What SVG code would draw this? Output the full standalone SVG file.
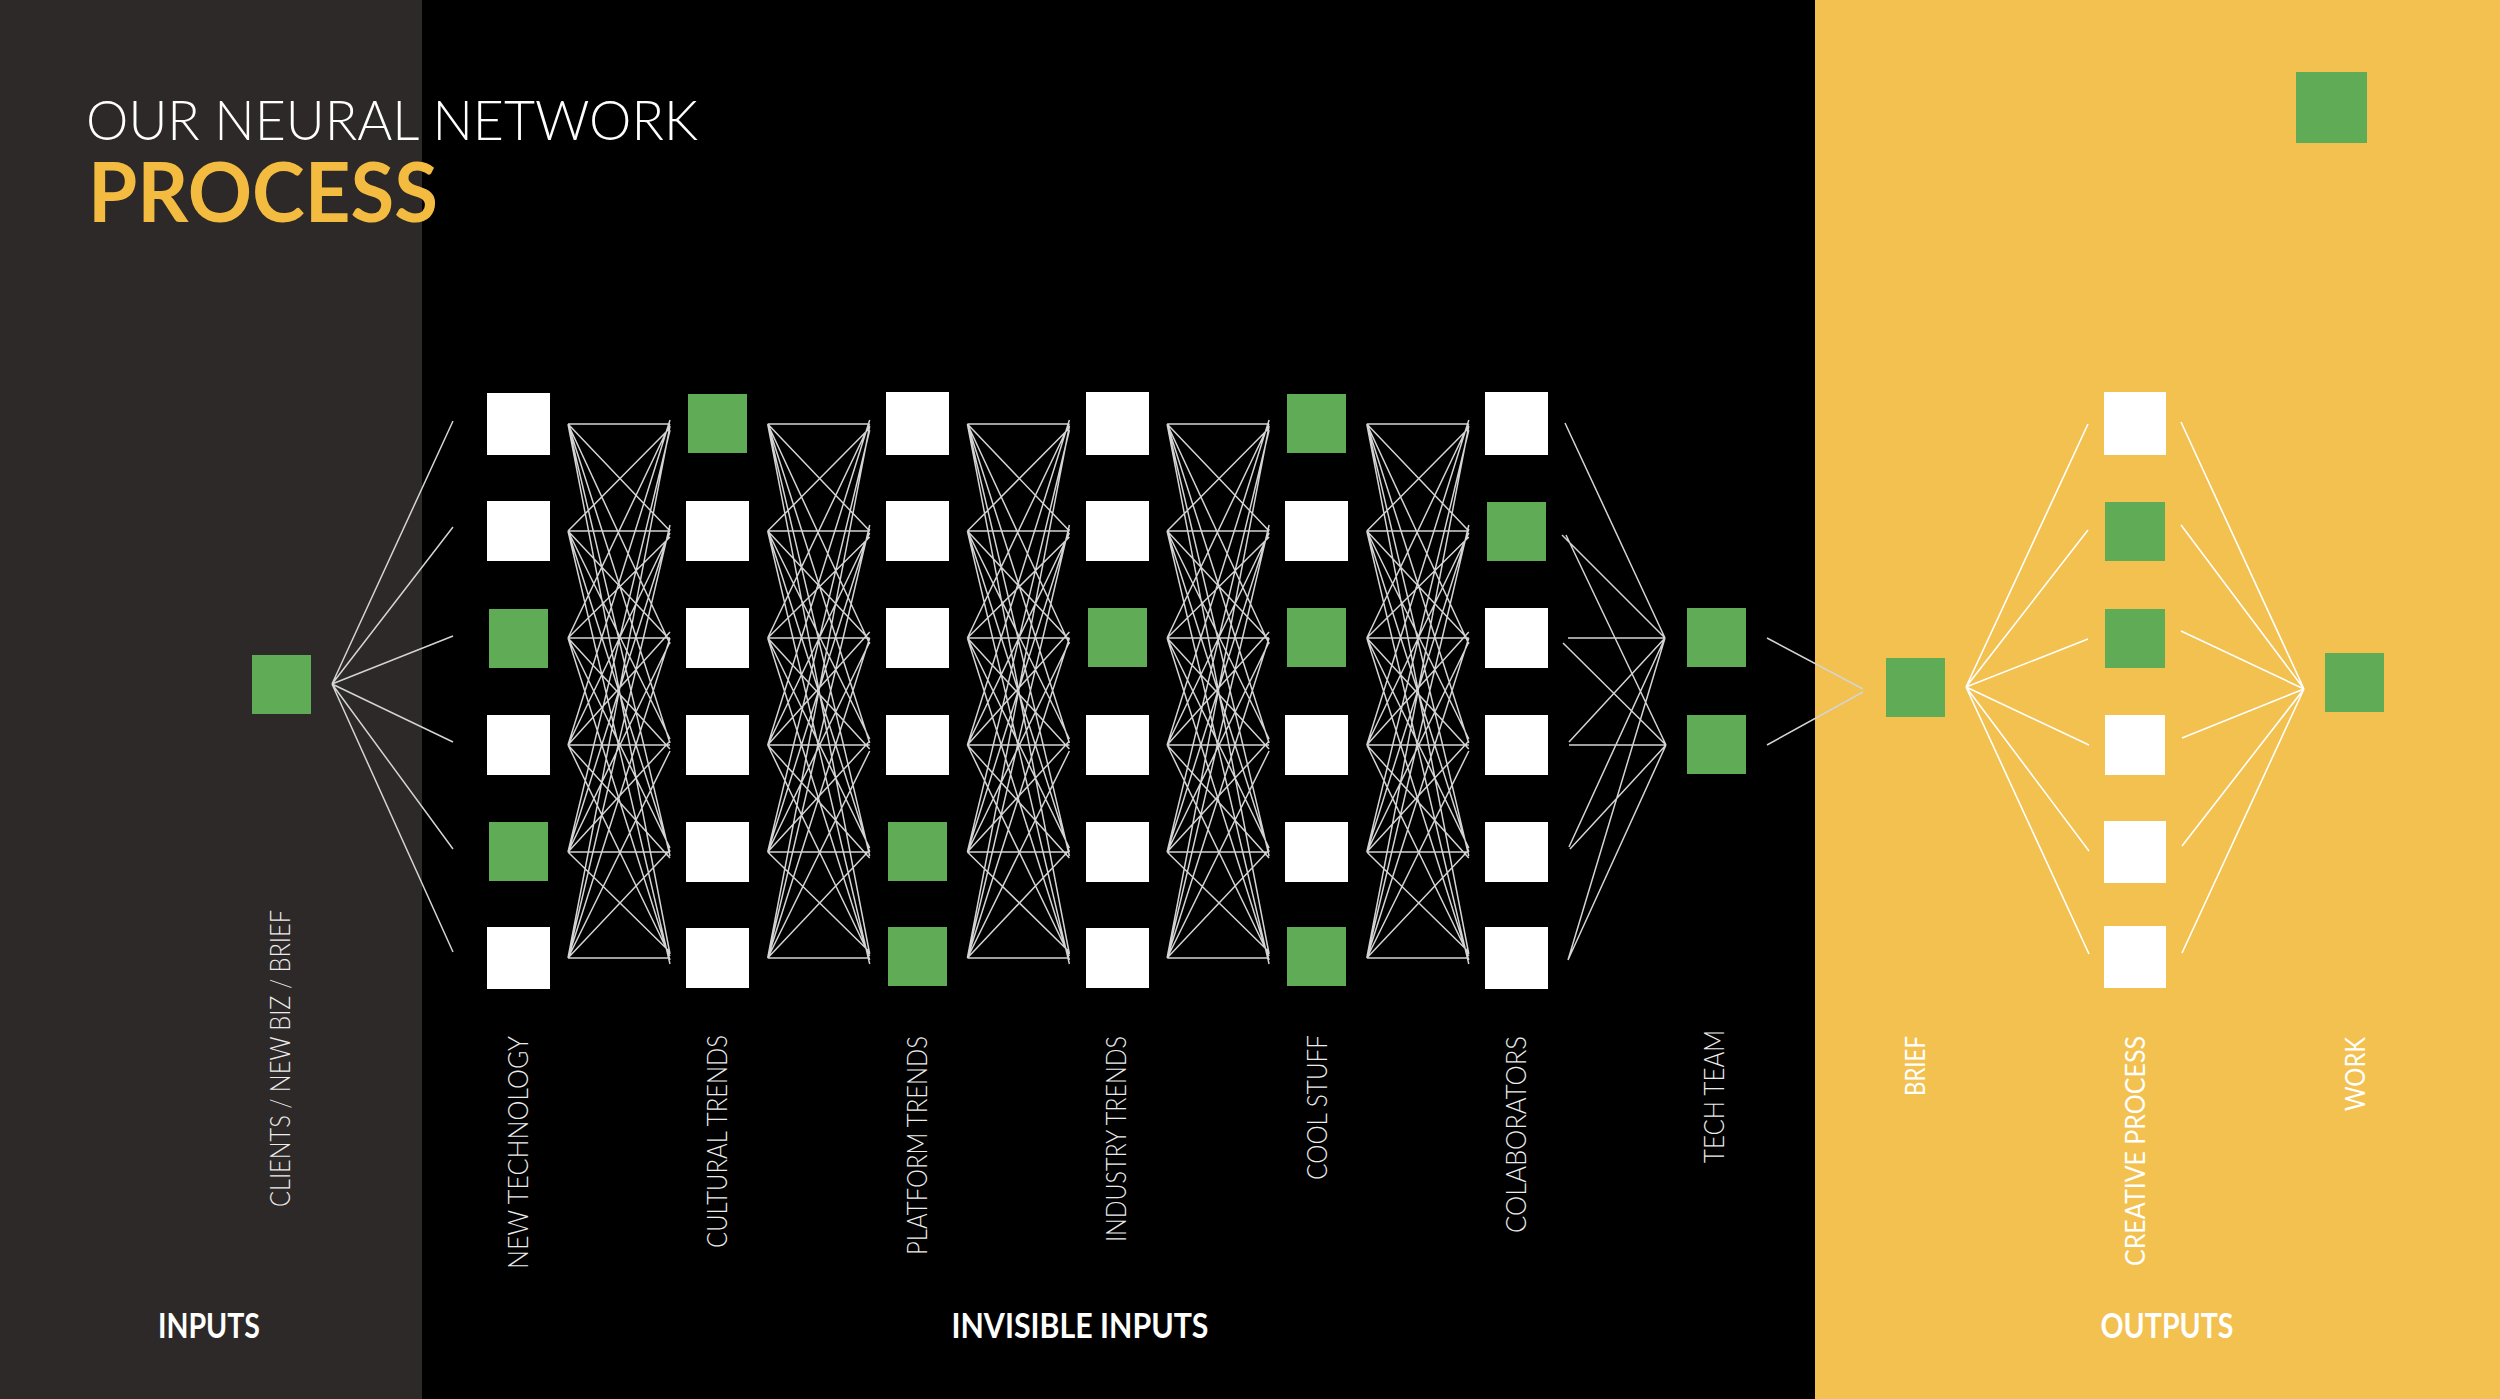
<svg xmlns="http://www.w3.org/2000/svg" xmlns:xlink="http://www.w3.org/1999/xlink" width="2500" height="1399" viewBox="0 0 2500 1399">
<defs>
<style>
.w{fill:#ffffff}
.g{fill:#60ab56}
.ln{stroke:#d4d4d4;stroke-width:1.5;fill:none}
.lny{stroke:#ffffff;stroke-width:1.6;fill:none}
.vl{font-family:Lato,"Open Sans","Liberation Sans",sans-serif;font-weight:300;font-size:27px;fill:#ececec}
.vly{font-family:Lato,"Open Sans","Liberation Sans",sans-serif;font-weight:400;font-size:27px;fill:#ffffff}
.sec{font-family:Lato,"Open Sans","Liberation Sans",sans-serif;font-weight:700;font-size:35px;fill:#ffffff;text-anchor:middle}
</style>
<path id="mesh" d="M50 424L152 424M50 424L152 531M50 424L152 644M50 424L152 743M50 424L152 856M50 424L152 954M50 531L152 428M50 531L152 531M50 531L152 640M50 531L152 739M50 531L152 852M50 531L152 964M50 638L152 424M50 638L152 537M50 638L152 638M50 638L152 749M50 638L152 848M50 638L152 960M50 745L152 420M50 745L152 533M50 745L152 632M50 745L152 745M50 745L152 858M50 745L152 956M50 852L152 430M50 852L152 529M50 852L152 642M50 852L152 741M50 852L152 852M50 852L152 952M50 958L152 426M50 958L152 525M50 958L152 638M50 958L152 751M50 958L152 850M50 958L152 958"/>
</defs>
<g id="background">
<rect x="0" y="0" width="422" height="1399" fill="#2d2928"/>
<rect x="422" y="0" width="1393" height="1399" fill="#000000"/>
<rect x="1815" y="0" width="685" height="1399" fill="#f2c150"/>
</g>
<g id="title">
<text x="86" y="140" font-family="Lato,'Open Sans','Liberation Sans',sans-serif" font-weight="300" font-size="56" fill="#ffffff" textLength="612" lengthAdjust="spacingAndGlyphs">OUR NEURAL NETWORK</text>
<text x="88" y="222" font-family="Lato,'Open Sans','Liberation Sans',sans-serif" font-weight="700" font-size="82" fill="#f3bc40" textLength="350" lengthAdjust="spacingAndGlyphs">PROCESS</text>
</g>
<g id="connectors">
<path class="ln" d="M332 684L453 421M332 684L453 527M332 684L453 636M332 684L453 742M332 684L453 849M332 684L453 952"/>
<use xlink:href="#mesh" href="#mesh" class="ln" transform="translate(518,0)"/>
<use xlink:href="#mesh" href="#mesh" class="ln" transform="translate(717.7,0)"/>
<use xlink:href="#mesh" href="#mesh" class="ln" transform="translate(917.4,0)"/>
<use xlink:href="#mesh" href="#mesh" class="ln" transform="translate(1117.1,0)"/>
<use xlink:href="#mesh" href="#mesh" class="ln" transform="translate(1316.8,0)"/>
<path class="ln" d="M1565 423L1665 638M1562 535L1665 638M1566 535L1666 745M1568 638L1665 638M1563 643L1666 745M1569 742L1665 638M1569 745L1666 745M1569 847L1665 638M1570 849L1666 745M1568 960L1665 638M1568 960L1666 745"/>
<path class="ln" d="M1767 638L1863 689M1767 745L1863 692"/>
<path class="lny" d="M1966 687L2088 424M1966 687L2088 530M1966 687L2088 639M1966 687L2089 745M1966 687L2089 851M1966 687L2089 954"/>
<path class="lny" d="M2181 422L2304 689M2181 525L2304 689M2181 631L2304 689M2182 738L2304 689M2182 846L2304 689M2182 953L2304 689"/>
</g>
<g id="node-input"><rect class="g" x="252" y="655" width="59" height="59"/></g>
<g id="node-new-technology">
<rect class="w" x="487" y="393" width="63" height="62"/>
<rect class="w" x="487" y="501" width="63" height="60"/>
<rect class="g" x="489" y="609" width="59" height="59"/>
<rect class="w" x="487" y="715" width="63" height="60"/>
<rect class="g" x="489" y="822" width="59" height="59"/>
<rect class="w" x="487" y="927" width="63" height="62"/>
</g>
<g id="node-cultural-trends">
<rect class="g" x="688" y="394" width="59" height="59"/>
<rect class="w" x="686" y="501" width="63" height="60"/>
<rect class="w" x="686" y="608" width="63" height="60"/>
<rect class="w" x="686" y="715" width="63" height="60"/>
<rect class="w" x="686" y="822" width="63" height="60"/>
<rect class="w" x="686" y="928" width="63" height="60"/>
</g>
<g id="node-platform-trends">
<rect class="w" x="886" y="392" width="63" height="63"/>
<rect class="w" x="886" y="501" width="63" height="60"/>
<rect class="w" x="886" y="608" width="63" height="60"/>
<rect class="w" x="886" y="715" width="63" height="60"/>
<rect class="g" x="888" y="822" width="59" height="59"/>
<rect class="g" x="888" y="927" width="59" height="59"/>
</g>
<g id="node-industry-trends">
<rect class="w" x="1086" y="392" width="63" height="63"/>
<rect class="w" x="1086" y="501" width="63" height="60"/>
<rect class="g" x="1088" y="608" width="59" height="59"/>
<rect class="w" x="1086" y="715" width="63" height="60"/>
<rect class="w" x="1086" y="822" width="63" height="60"/>
<rect class="w" x="1086" y="928" width="63" height="60"/>
</g>
<g id="node-cool-stuff">
<rect class="g" x="1287" y="394" width="59" height="59"/>
<rect class="w" x="1285" y="501" width="63" height="60"/>
<rect class="g" x="1287" y="608" width="59" height="59"/>
<rect class="w" x="1285" y="715" width="63" height="60"/>
<rect class="w" x="1285" y="822" width="63" height="60"/>
<rect class="g" x="1287" y="927" width="59" height="59"/>
</g>
<g id="node-colaborators">
<rect class="w" x="1485" y="392" width="63" height="63"/>
<rect class="g" x="1487" y="502" width="59" height="59"/>
<rect class="w" x="1485" y="608" width="63" height="60"/>
<rect class="w" x="1485" y="715" width="63" height="60"/>
<rect class="w" x="1485" y="822" width="63" height="60"/>
<rect class="w" x="1485" y="927" width="63" height="62"/>
</g>
<g id="node-tech-team">
<rect class="g" x="1687" y="608" width="59" height="59"/>
<rect class="g" x="1687" y="715" width="59" height="59"/>
</g>
<g id="node-brief"><rect class="g" x="1886" y="658" width="59" height="59"/></g>
<g id="node-creative-process">
<rect class="w" x="2104" y="392" width="62" height="63"/>
<rect class="g" x="2105" y="502" width="60" height="59"/>
<rect class="g" x="2105" y="609" width="60" height="59"/>
<rect class="w" x="2105" y="715" width="60" height="60"/>
<rect class="w" x="2104" y="821" width="62" height="62"/>
<rect class="w" x="2104" y="926" width="62" height="62"/>
</g>
<g id="node-work"><rect class="g" x="2325" y="653" width="59" height="59"/></g>
<g id="corner-square"><rect class="g" x="2296" y="72" width="71" height="71"/></g>
<g id="labels">
<text class="vl" transform="translate(290,1207) rotate(-90)" textLength="297" lengthAdjust="spacingAndGlyphs">CLIENTS / NEW BIZ / BRIEF</text>
<text class="vl" transform="translate(528,1269) rotate(-90)" textLength="233" lengthAdjust="spacingAndGlyphs">NEW TECHNOLOGY</text>
<text class="vl" transform="translate(727,1248) rotate(-90)" textLength="213" lengthAdjust="spacingAndGlyphs">CULTURAL TRENDS</text>
<text class="vl" transform="translate(927,1255) rotate(-90)" textLength="219" lengthAdjust="spacingAndGlyphs">PLATFORM TRENDS</text>
<text class="vl" transform="translate(1126,1242) rotate(-90)" textLength="206" lengthAdjust="spacingAndGlyphs">INDUSTRY TRENDS</text>
<text class="vl" transform="translate(1327,1180) rotate(-90)" textLength="145" lengthAdjust="spacingAndGlyphs">COOL STUFF</text>
<text class="vl" transform="translate(1526,1233) rotate(-90)" textLength="197" lengthAdjust="spacingAndGlyphs">COLABORATORS</text>
<text class="vl" transform="translate(1724,1163) rotate(-90)" textLength="133" lengthAdjust="spacingAndGlyphs">TECH TEAM</text>
<text class="vly" transform="translate(1925,1096) rotate(-90)" textLength="60" lengthAdjust="spacingAndGlyphs">BRIEF</text>
<text class="vly" transform="translate(2145,1266) rotate(-90)" textLength="230" lengthAdjust="spacingAndGlyphs">CREATIVE PROCESS</text>
<text class="vly" transform="translate(2365,1111) rotate(-90)" textLength="74" lengthAdjust="spacingAndGlyphs">WORK</text>
<text class="sec" x="209" y="1338" textLength="102" lengthAdjust="spacingAndGlyphs">INPUTS</text>
<text class="sec" x="1080" y="1338" textLength="257" lengthAdjust="spacingAndGlyphs">INVISIBLE INPUTS</text>
<text class="sec" x="2167" y="1338" textLength="133" lengthAdjust="spacingAndGlyphs">OUTPUTS</text>
</g>
</svg>
